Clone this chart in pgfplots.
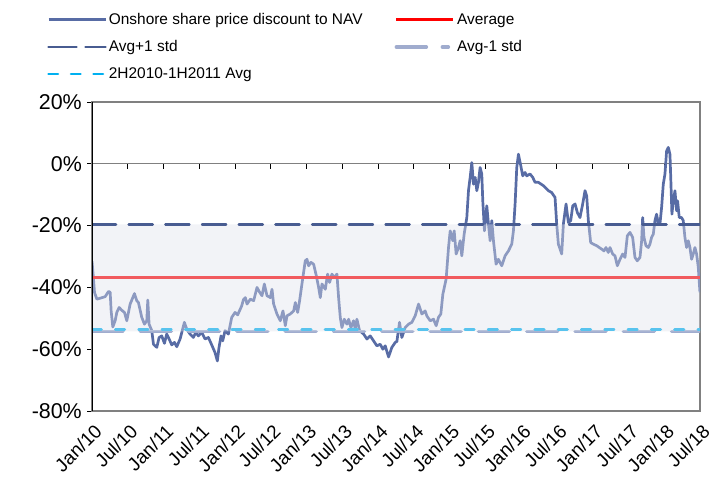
\documentclass[border=0pt]{standalone}
\usepackage{pgfplots}
\pgfplotsset{compat=1.18}
\usepackage{pgfplotstable}
\usepackage{fontspec}
\setmainfont{Liberation Sans}
\definecolor{linec}{RGB}{88,108,165}
\definecolor{avgp}{RGB}{72,92,145}
\definecolor{avgm}{RGB}{160,172,206}
\definecolor{cyanl}{RGB}{0,176,240}
\definecolor{bandc}{RGB}{222,225,235}
\definecolor{framec}{RGB}{128,128,128}

\pgfplotstableread{
m v
0.00 -31.5
0.20 -36.0
0.42 -41.6
0.81 -43.8
1.37 -43.5
2.21 -43.0
2.77 -41.3
3.05 -41.6
3.21 -47.6
3.49 -52.8
3.88 -50.8
4.16 -48.1
4.55 -46.5
5.00 -47.4
5.45 -48.1
5.84 -50.8
6.40 -45.4
7.12 -42.0
7.51 -44.3
7.79 -44.9
8.35 -49.7
8.80 -51.9
9.19 -50.8
9.36 -44.1
9.58 -51.9
10.03 -54.0
10.31 -58.4
10.87 -59.4
11.26 -56.2
11.70 -55.7
12.15 -58.1
12.54 -55.1
12.82 -56.2
13.38 -58.6
13.83 -57.8
14.22 -59.2
14.78 -56.7
15.50 -51.3
15.89 -53.5
16.45 -55.1
17.01 -56.2
17.40 -54.6
17.85 -55.7
18.41 -54.6
18.97 -56.7
19.53 -56.2
20.08 -58.6
20.64 -61.1
21.03 -63.8
21.31 -59.4
21.65 -55.7
21.93 -57.3
22.32 -54.0
22.88 -55.1
23.44 -49.7
24.00 -48.1
24.44 -48.9
25.11 -46.0
25.40 -44.0
25.73 -43.3
26.01 -45.4
26.57 -43.8
27.12 -44.3
27.68 -40.0
28.13 -41.6
28.52 -42.7
28.91 -38.9
29.36 -42.7
29.92 -43.3
30.20 -40.6
30.47 -45.4
31.03 -48.6
31.59 -50.8
32.04 -47.6
32.43 -52.4
32.71 -49.2
33.27 -48.6
33.83 -47.6
34.11 -44.9
34.50 -48.1
34.83 -44.3
35.22 -38.9
35.78 -31.4
36.06 -30.9
36.34 -33.0
36.73 -31.9
37.18 -32.5
37.63 -36.2
38.02 -40.0
38.30 -43.3
38.58 -38.9
39.14 -40.6
39.53 -35.7
39.86 -38.4
40.25 -35.7
40.64 -36.8
41.09 -35.7
41.37 -43.3
41.65 -49.7
41.93 -53.0
42.32 -50.3
42.77 -51.9
43.05 -50.3
43.44 -53.0
43.88 -50.8
44.16 -53.5
44.44 -50.3
44.89 -54.0
45.56 -55.1
46.12 -56.7
46.68 -55.7
47.23 -57.3
47.79 -58.9
48.35 -58.4
48.80 -60.0
49.19 -58.9
49.75 -62.5
50.31 -59.4
50.87 -57.8
51.15 -57.5
51.59 -51.3
51.98 -56.2
52.54 -53.0
53.10 -51.9
53.66 -51.3
54.22 -49.2
54.78 -45.4
55.34 -48.6
55.89 -47.6
56.17 -49.2
56.73 -50.8
57.29 -50.3
57.74 -52.4
58.13 -49.7
58.52 -48.6
58.86 -42.2
59.41 -37.3
59.81 -27.1
60.09 -21.7
60.53 -24.9
60.76 -21.7
61.09 -29.2
61.48 -27.1
61.76 -24.9
62.04 -29.8
62.43 -22.8
62.88 -17.4
63.16 -8.7
63.44 -4.4
63.72 0.4
64.00 -6.6
64.28 -4.4
64.56 -8.7
64.83 -6.0
65.11 -1.2
65.39 -3.3
65.56 -12.0
65.84 -21.7
66.23 -13.6
66.51 -19.5
66.79 -24.9
67.07 -18.4
67.35 -24.9
67.79 -32.5
68.18 -30.9
68.74 -33.0
69.30 -29.8
69.86 -28.2
70.14 -27.1
70.42 -26.0
70.70 -21.7
70.98 -13.0
71.26 -1.2
71.54 3.1
71.93 -0.6
72.26 -3.9
72.65 -2.8
72.93 -3.9
73.49 -3.3
73.94 -4.4
74.33 -6.0
74.89 -6.0
75.73 -7.1
76.56 -8.7
77.12 -9.3
77.68 -10.9
77.96 -19.5
78.24 -26.0
78.80 -29.2
79.08 -19.5
79.53 -13.0
79.92 -19.0
80.31 -18.4
80.65 -13.6
81.04 -13.0
81.43 -15.8
81.87 -17.4
82.32 -13.0
82.71 -8.7
82.99 -10.4
83.27 -18.4
83.66 -25.5
84.11 -26.0
84.66 -26.5
85.11 -27.1
85.50 -27.6
85.89 -28.2
86.23 -27.1
86.62 -28.7
86.90 -27.1
87.35 -29.2
87.74 -29.8
88.13 -33.0
88.58 -30.9
89.02 -29.2
89.42 -30.3
89.81 -23.3
90.25 -22.2
90.70 -23.8
91.09 -30.3
91.48 -31.4
91.93 -30.3
92.21 -24.9
92.38 -17.4
92.60 -23.8
92.93 -26.5
93.32 -27.1
93.60 -26.0
93.88 -23.8
94.16 -22.8
94.44 -18.4
94.72 -16.3
95.00 -19.5
95.28 -19.5
95.56 -14.1
95.84 -6.6
96.12 -3.3
96.40 4.2
96.68 5.3
96.96 3.1
97.13 -6.6
97.29 -16.3
97.52 -12.0
97.80 -8.7
98.08 -15.2
98.24 -12.0
98.52 -17.4
98.91 -17.4
99.19 -18.4
99.47 -23.8
99.75 -27.1
100.03 -24.9
100.31 -27.1
100.59 -30.9
100.87 -29.2
101.15 -27.1
101.43 -29.2
101.71 -33.5
101.99 -41.6
}\discount

\begin{document}
\begin{tikzpicture}
% axis line at zero with its ticks
\begin{axis}[at={(0,0)}, anchor=south west, scale only axis,
  width=608bp, height=309bp, xmin=0, xmax=102, ymin=-80, ymax=20,
  axis x line=middle, axis y line=none,
  x axis line style={-, framec, line width=1.3bp},
  xtick={0,6,...,102}, xticklabels={}, tick align=outside,
  major tick length=5bp, xtick style={black, line width=0.9bp}]
\addplot[draw=none] coordinates {(0,0)};
\end{axis}

\begin{axis}[at={(0,0)}, anchor=south west, scale only axis,
  width=608bp, height=309bp, xmin=0, xmax=102, ymin=-80, ymax=20,
  axis line style={framec, line width=1.3bp},
  xtick={0,6,...,102},
  xticklabels={Jan/10,Jul/10,Jan/11,Jul/11,Jan/12,Jul/12,Jan/13,Jul/13,Jan/14,Jul/14,Jan/15,Jul/15,Jan/16,Jul/16,Jan/17,Jul/17,Jan/18,Jul/18},
  xtick style={draw=none},
  ytick={-80,-60,...,20},
  yticklabel={\pgfmathprintnumber{\tick}\%},
  ytick pos=left, tick align=outside, major tick length=5bp,
  ytick style={black, line width=0.9bp},
  /pgf/number format/assume math mode=true,
  yticklabel style={font=\fontsize{21.5}{24}\selectfont, inner sep=0pt, xshift=-5bp},
  xticklabel style={font=\fontsize{19}{22}\selectfont, rotate=45, anchor=east, inner sep=0pt, xshift=-4bp, yshift=-13bp},
  legend columns=2, legend cell align=left,
  legend image code/.code={\draw[#1] (0bp,0bp) -- (57bp,0bp);},
  legend style={draw=none, fill=none, at={(-0.079,1.30)}, anchor=north west,
    font=\fontsize{15.5}{18}\selectfont, row sep=10.5bp,
    /tikz/every even column/.append style={column sep=30bp}},
  clip=true]

\addplot[linec, line width=2.7bp, line join=round, forget plot] table[x=m, y=v] {\discount};
\addplot[red, line width=3bp, forget plot] coordinates {(0,-36.9) (102,-36.9)};
\addplot[avgm, line width=3.5bp, line cap=round, dash pattern=on 31bp off 17.3bp, forget plot] coordinates {(0,-54.3) (102,-54.3)};
\addplot[cyanl, line width=2.6bp, line cap=round, dash pattern=on 9.5bp off 13.8bp, forget plot] coordinates {(0,-53.6) (102,-53.6)};
\addplot[draw=none, fill=bandc, fill opacity=0.4, forget plot] coordinates {(0,-19.6) (102,-19.6) (102,-54.2) (0,-54.2) (0,-19.6)};
\addplot[avgp, line width=2.6bp, line cap=round, dash pattern=on 24bp off 12.7bp, forget plot] coordinates {(0,-19.6) (102,-19.6)};
\draw[black, line width=1.3bp] (rel axis cs:0,0) -- (rel axis cs:0,1);

\addlegendimage{linec, line width=2.7bp}
\addlegendentry{Onshore share price discount to NAV}
\addlegendimage{red, line width=3bp}
\addlegendentry{Average}
\addlegendimage{avgp, line width=2.6bp, line cap=round, dash pattern=on 28bp off 9bp}
\addlegendentry{Avg+1 std}
\addlegendimage{avgm, line width=3.5bp, line cap=round, dash pattern=on 30bp off 16bp on 6bp off 40bp}
\addlegendentry{Avg-1 std}
\addlegendimage{cyanl, line width=2.6bp, line cap=round, dash pattern=on 9.5bp off 13bp}
\addlegendentry{2H2010-1H2011 Avg}
\end{axis}
\pgfresetboundingbox
\useasboundingbox (-92bp,-82bp) rectangle (618bp,411bp);
\end{tikzpicture}
\end{document}
